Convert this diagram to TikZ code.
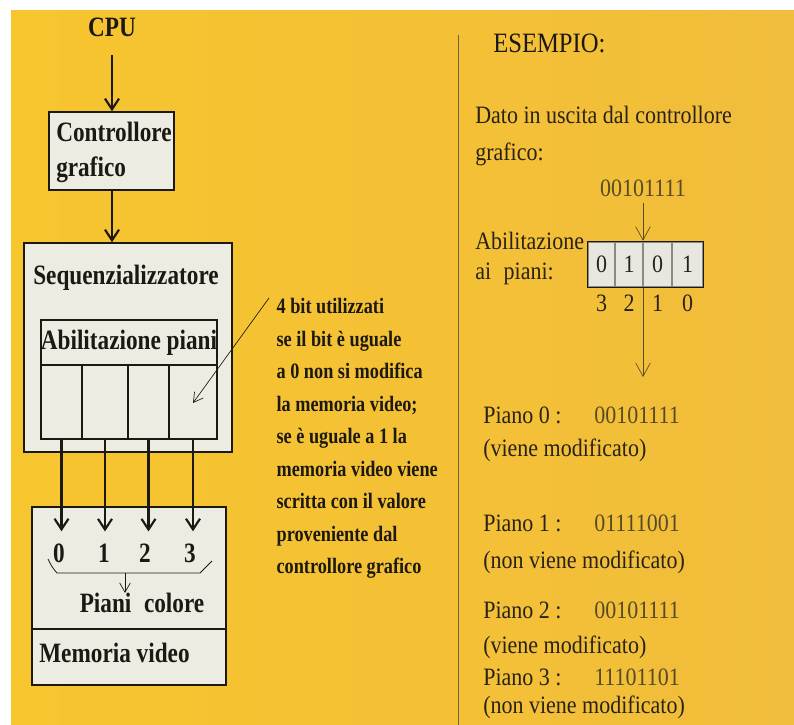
\documentclass[tikz,border=0pt]{standalone}
\usepackage{fontspec}
\setmainfont{Liberation Serif}
\newfontfamily\condfont[FakeStretch=0.83]{Liberation Serif}
\newfontfamily\exfont[FakeStretch=0.88]{Liberation Serif}
\usetikzlibrary{positioning, fit, calc, arrows.meta}
\definecolor{pagebg}{RGB}{247,197,46}
\definecolor{pagebgright}{RGB}{241,189,60}
\definecolor{boxbg}{RGB}{237,236,226}
\definecolor{regbg}{RGB}{231,231,224}
\definecolor{inkdark}{RGB}{28,24,18}
\definecolor{inktext}{RGB}{40,34,24}
\definecolor{inkolive}{RGB}{88,74,36}
\definecolor{rulegrey}{RGB}{110,98,72}
\definecolor{cellgrey}{RGB}{140,138,128}

\begin{document}
\begin{tikzpicture}[x=0.75pt, y=-0.75pt,
    blk/.style={draw=inkdark, line width=1.1pt, fill=boxbg, inner sep=0pt},
    cell/.style={draw=inkdark, line width=1pt, inner sep=0pt},
    regcell/.style={draw=cellgrey, line width=0.8pt, fill=regbg, inner sep=0pt},
    title/.style={font=\condfont\bfseries\fontsize{21}{25}\selectfont, text=inkdark, inner sep=0pt},
    note/.style={font=\condfont\bfseries\fontsize{16.5}{24.4}\selectfont, text=inkdark, align=left, inner sep=0pt},
    extext/.style={font=\exfont\fontsize{18.75}{27.75}\selectfont, text=inktext, inner sep=0pt, anchor=west},
    exnum/.style={font=\exfont\fontsize{18.75}{22}\selectfont, text=inkolive, inner sep=0pt},
    bus/.style={-{Straight Barb[length=8pt, width=10.5pt, line width=1.6pt]}, line width=1.6pt, draw=inkdark},
    ptr/.style={-{Straight Barb[length=7pt, width=8pt]}, line width=0.5pt, draw=inkdark},
    flow/.style={-{Straight Barb[length=10pt, width=11pt]}, line width=0.5pt, draw=inkolive}]

    % Page
    \useasboundingbox (0,0) rectangle (794,725);
    \fill[white] (0,0) rectangle (794,725);
    \shade[left color=pagebg, right color=pagebgright] (11,10) rectangle (794,725);

    % Left: hardware chain
    \node[title] (cpu) at (112,27) {CPU};
    \node[blk, fit={(49,112) (174,190)}] (ctrl) {};
    \node[title, anchor=west, align=left, font=\condfont\bfseries\fontsize{21}{26.25}\selectfont] (ctrltxt) at (56,152) {Controllore\\grafico};
    \draw[bus, shorten <=14pt] (cpu) -- (cpu |- ctrl.north);

    \node[blk, fit={(24,243) (232,452)}] (seq) {};
    \node[title] (seqtxt) at (126,278) {Sequenzializzatore};
    \draw[bus] (cpu |- ctrl.south) -- (cpu |- seq.north);

    \node[cell, fit={(41,320) (217,439)}] (abil) {};
    \node[title] (abiltxt) at (129,343) {Abilitazione piani};
    \draw[line width=1pt, inkdark] (abil.west |- 0,365) -- (abil.east |- 0,365);
    \foreach \i/\xa/\xb in {0/41/82, 1/82/128, 2/128/169, 3/169/217}
        \node[cell, fit={(\xa,365) (\xb,439)}] (c\i) {};

    \node[blk, fit={(32,507) (226,685)}] (mem) {};
    \draw[line width=1.1pt, inkdark] (mem.west |- 0,629) -- (mem.east |- 0,629);

    % Bit lines into the colour planes
    \foreach \i/\x in {0/59, 1/104, 2/145, 3/190} {
        \node[title] (n\i) at (\x,553) {\i};
        \draw[bus, shorten >=9pt] (c\i.south) -- (c\i.south |- n\i.north);
    }

    \node[title] (piani) at (142,603) {Piani\hspace{0.45em}colore};
    \coordinate (brmid) at (125,573);
    \draw[line width=0.6pt, inkdark] (48,559) .. controls (52,567) .. (57,573) -- (200,573) -- (212,561);
    \draw[ptr] (brmid) -- (brmid |- piani.north);
    \node[title, anchor=west] (memtxt) at (39,653) {Memoria video};

    % Explanation
    \node[note, anchor=north west, inner xsep=5.5pt] (expl) at (269,298) {4 bit utilizzati\\se il bit è uguale\\a 0 non si modifica\\la memoria video;\\se è uguale a 1 la\\memoria video viene\\scritta con il valore\\proveniente dal\\controllore grafico};
    \coordinate (ptrtip) at (193,403);
    \draw[ptr] (expl.north west) -- (ptrtip);

    % Divider
    \coordinate (divtop) at (458,35);
    \coordinate (divbot) at (458,725);
    \draw[line width=0.6pt, rulegrey] (divtop) -- (divbot);

    % Right: example
    \node[extext, font=\exfont\fontsize{21}{24}\selectfont, text=inkdark] (esempio) at (493,43) {ESEMPIO:};
    \node[extext, anchor=north west, align=left] (dato) at (475,106) {Dato in uscita dal controllore\\grafico:};
    \node[exnum] (datum) at (643,188) {00101111};

    \node[extext, anchor=north west, align=left, font=\exfont\fontsize{18.75}{22.5}\selectfont] (abilex) at (475,232) {Abilitazione\\ai\hspace{0.5em}piani:};
    \foreach \i/\xa/\xb/\v in {3/588/615/0, 2/615/643/1, 1/643/672/0, 0/672/703/1} {
        \node[regcell, fit={(\xa,242) (\xb,287)}] (r\i) {};
        \node[exnum, text=inktext] (d\i) at (r\i.center) {\v};
        \node[exnum, text=inktext] (b\i) at (r\i.center |- 0,303) {\i};
    }
    \node[draw=inkdark, line width=1.2pt, inner sep=0pt, fit=(r3) (r0)] (reg) {};
    \draw[flow, shorten <=5pt] (datum.south) -- (datum.south |- reg.north);
    \coordinate (planes) at (643,377);
    \draw[flow] (datum.south |- reg.south) -- (planes);

    \foreach \k/\val/\yp/\ym/\msg in {0/00101111/415/450/viene modificato,
                                    1/01111001/523/562/non viene modificato,
                                    2/00101111/610/647/viene modificato,
                                    3/11101101/677/707/non viene modificato} {
        \node[extext] (p\k) at (483,\yp) {Piano \k\ :};
        \node[exnum, anchor=west] (v\k) at (594,\yp) {\val};
        \node[extext] (m\k) at (483,\ym) {(\msg)};
    }
\end{tikzpicture}
\end{document}
